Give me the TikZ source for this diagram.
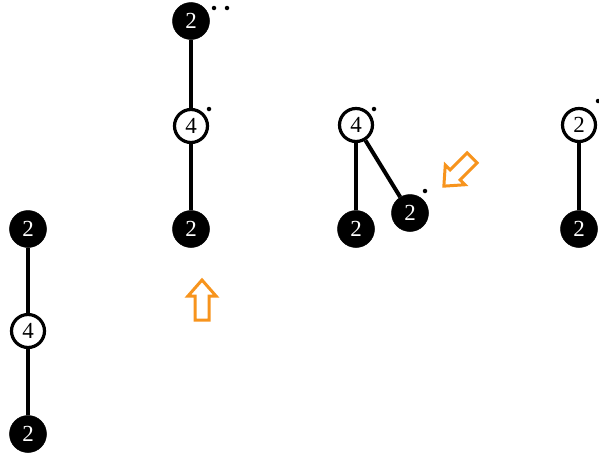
\documentclass[tikz,border=0pt]{standalone}
\usepackage{fontspec}
\setmainfont{Liberation Serif}
\usetikzlibrary{backgrounds}
\definecolor{arrorange}{RGB}{247,148,29}
\begin{document}
\begin{tikzpicture}[x=1pt,y=-1pt,
  blk/.style={circle,fill=black,draw=black,line width=0.5pt,minimum size=37pt,inner sep=0pt,text=white,font=\fontsize{23}{23}\selectfont},
  wht/.style={circle,fill=white,draw=black,line width=3.2pt,minimum size=33pt,inner sep=0pt,text=black,font=\fontsize{23}{23}\selectfont},
  edge/.style={line width=4pt,black},
  dot/.style={circle,fill=black,inner sep=0pt,minimum size=4.5pt},
  bigarrow/.style={draw=arrorange,line width=3pt,fill=white,line join=miter}]
\useasboundingbox (0,0) rectangle (599,458);
% left chain
\node[blk] (a1) at (28,229) {2};
\node[wht] (a2) at (28,331) {4};
\node[blk] (a3) at (28,434) {2};
% middle chain
\node[blk] (b1) at (191,21) {2};
\node[wht] (b2) at (191,126) {4};
\node[blk] (b3) at (191,229) {2};
\node[dot] (bd1) at (214,8) {};
\node[dot] (bd2) at (227,8) {};
\node[dot] (bd3) at (209,109) {};
% third
\node[wht] (c1) at (356,125) {4};
\node[blk] (c2) at (356,229) {2};
\node[blk] (c3) at (410,213) {2};
\node[dot] (cd1) at (374,109) {};
\node[dot] (cd2) at (425,191) {};
% fourth
\node[wht] (d1) at (579,125) {2};
\node[blk] (d2) at (579,229) {2};
\node[dot] (dd1) at (598,101) {};
\begin{scope}[on background layer]
\draw[edge] (a1) -- (a2);
\draw[edge] (a2) -- (a3);
\draw[edge] (b1) -- (b2);
\draw[edge] (b2) -- (b3);
\draw[edge] (c1) -- (c2);
\draw[edge] (c1) -- (c3);
\draw[edge] (d1) -- (d2);
\end{scope}
% arrows
\draw[bigarrow,shift={(202,300)}] (0,-20) -- (-14,-4) -- (-7,-4) -- (-7,20) -- (7,20) -- (7,-4) -- (14,-4) -- cycle;
\draw[bigarrow,shift={(458,172)},rotate=135] (0,-20) -- (-14,-4) -- (-7,-4) -- (-7,20) -- (7,20) -- (7,-4) -- (14,-4) -- cycle;
\end{tikzpicture}
\end{document}
